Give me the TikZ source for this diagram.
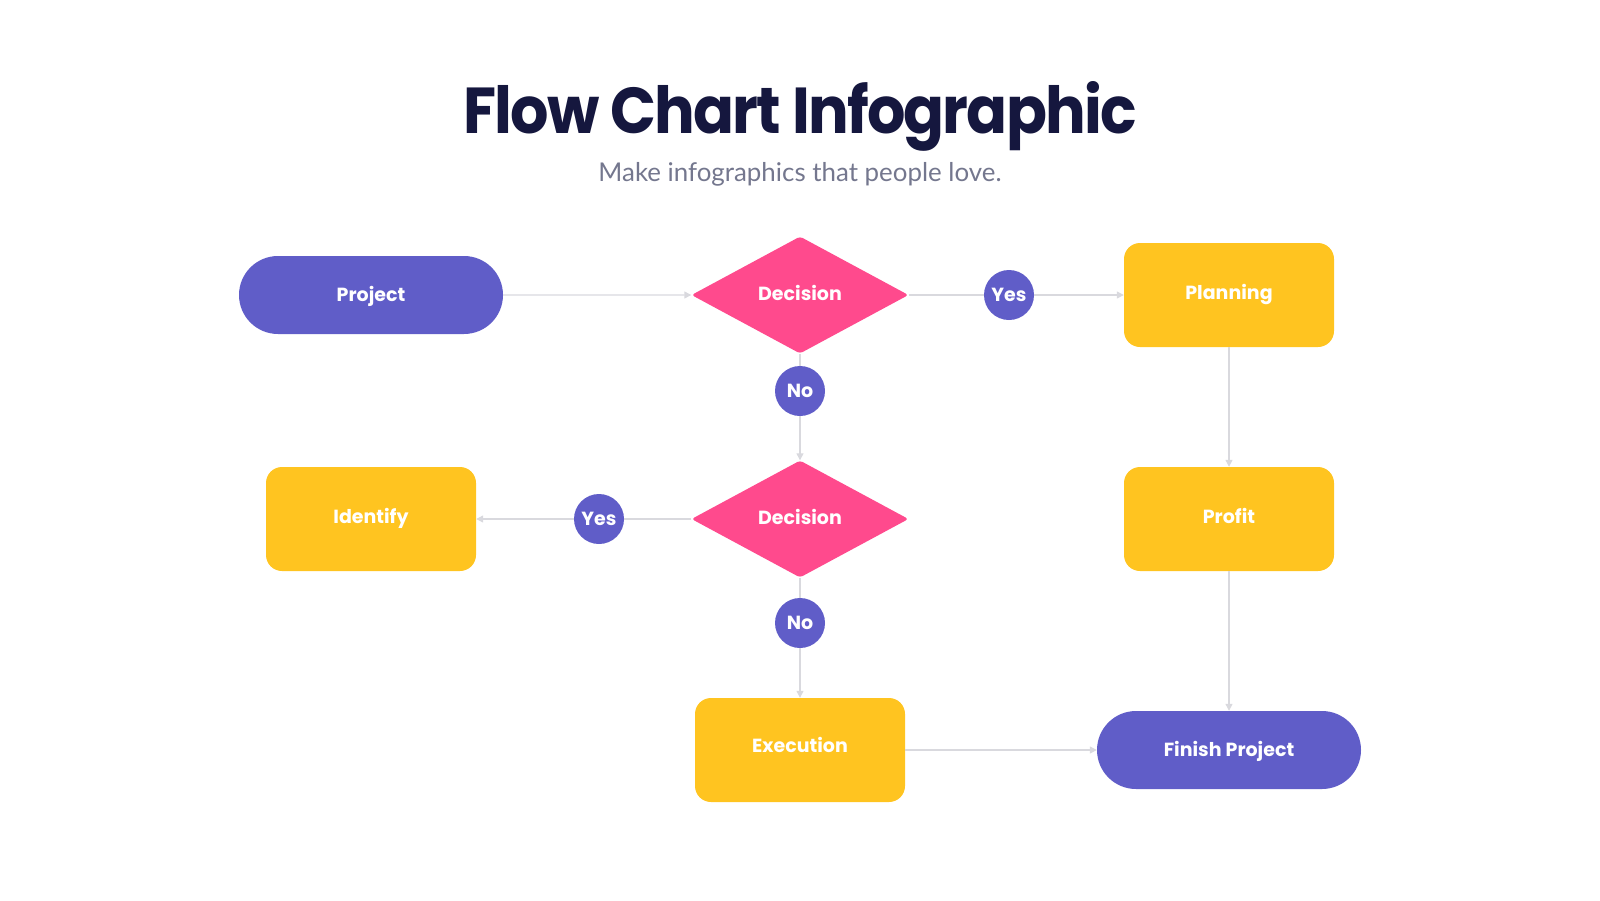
\documentclass[tikz,border=0pt]{standalone}
\usepackage{fontspec}
\setmainfont{Poppins}
\newfontfamily\subfont{Lato}
\usetikzlibrary{shapes.geometric,shapes.misc,arrows.meta}
\definecolor{cpurple}{HTML}{605DC8}
\definecolor{cpink}{HTML}{FF4A8D}
\definecolor{cyellow}{HTML}{FFC420}
\definecolor{cline}{HTML}{D9D9DE}
\definecolor{ctitle}{HTML}{15173E}
\definecolor{csub}{HTML}{74778E}
\tikzset{
  lbl/.style={text=white,font=\fontsize{19}{19}\selectfont\bfseries,inner sep=0pt},
  pill/.style={lbl,rounded rectangle,fill=cpurple,minimum width=264pt,minimum height=78pt,text height=14pt,text depth=2pt},
  box/.style={lbl,rectangle,rounded corners=16pt,fill=cyellow,minimum width=210pt,minimum height=104pt,text height=14pt,text depth=6pt},
  dec/.style={lbl,diamond,fill=cpink,minimum width=217pt,minimum height=117pt,aspect=1.855,rounded corners=3pt,text height=14pt,text depth=4pt},
  ans/.style={lbl,circle,fill=cpurple,minimum size=50pt},
  conn/.style={draw=cline,line width=1.2pt},
  arr/.style={conn,-{Triangle[length=7pt,width=7pt,fill=cline]}},
}
\begin{document}
\begin{tikzpicture}[x=1pt,y=-1pt]
\useasboundingbox (0,0) rectangle (1600,900);
\node[inner sep=0pt,text=ctitle] (title) at (800,116) {\resizebox{673pt}{52pt}{\bfseries\addfontfeatures{LetterSpace=-3}Flow Chart Infographic}};
\node[inner sep=0pt,text=csub] (sub) at (800,174) {\resizebox{403pt}{!}{\subfont Make infographics that people love.}};

\node[pill] (project) at (371,295) {Project};
\node[dec] (d1) at (800,295) {Decision};
\node[ans] (y1) at (1009,295) {Yes};
\node[box] (planning) at (1229,295) {Planning};
\node[ans] (n1) at (800,391) {No};
\node[dec] (d2) at (800,519) {Decision};
\node[ans] (y2) at (599,519) {Yes};
\node[box] (identify) at (371,519) {Identify};
\node[box] (profit) at (1229,519) {Profit};
\node[ans] (n2) at (800,623) {No};
\node[box,text depth=10pt] (execution) at (800,750) {Execution};
\node[pill] (finish) at (1229,750) {Finish Project};

\path[arr] (project) -- (d1.west);
\path[conn] (d1.east) -- (y1);
\path[arr] (y1) -- (planning);
\path[conn] (d1.south) -- (n1);
\path[arr] (n1) -- (d2.north);
\path[arr] (planning) -- (profit);
\path[arr] (profit) -- (finish);
\path[conn] (d2.west) -- (y2);
\path[arr] (y2) -- (identify);
\path[conn] (d2.south) -- (n2);
\path[arr] (n2) -- (execution);
\path[arr] (execution) -- (finish);
\end{tikzpicture}
\end{document}
